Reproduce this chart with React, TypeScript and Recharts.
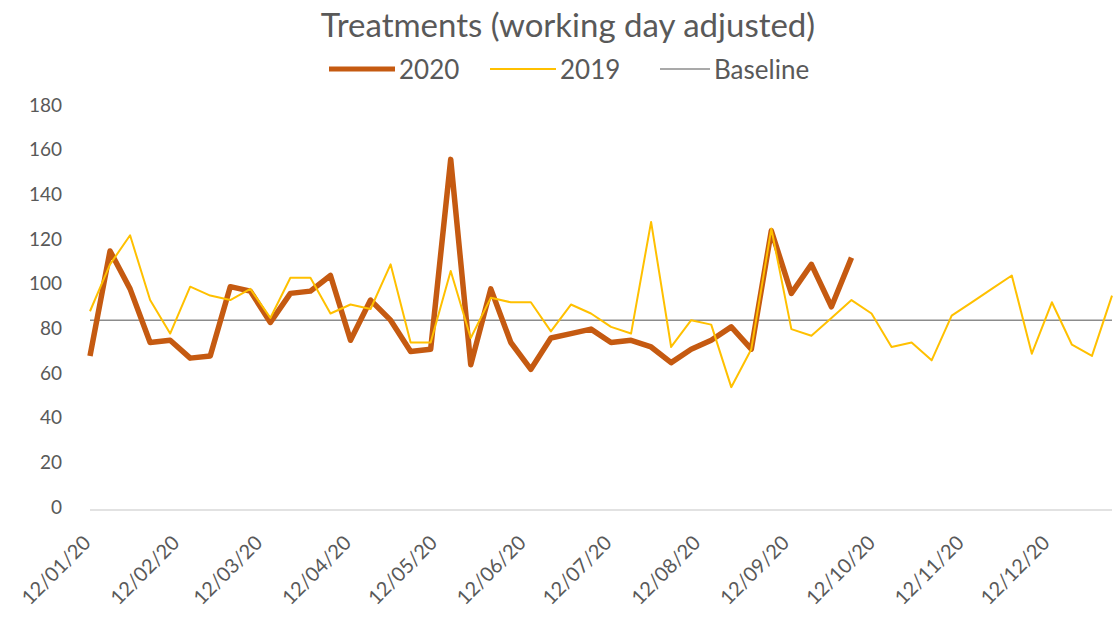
import { LineChart, Line, XAxis, YAxis, ReferenceLine } from "recharts";

// days since 12/01/20, one point per week
const weekDays = [
  0, 7, 14, 21, 28, 35, 42, 49, 56, 63, 70, 77, 84, 91, 98, 105, 112, 119, 126,
  133, 140, 147, 154, 161, 168, 175, 182, 189, 196, 203, 210, 217, 224, 231,
  238, 245, 252, 259, 266, 273, 280, 287, 294, 301, 308, 315, 322, 329, 336,
  343, 350, 357,
];

const treatments2020 = [
  69, 116, 99, 75, 76, 68, 69, 100, 98, 84, 97, 98, 105, 76, 94, 85, 71, 72,
  157, 65, 99, 75, 63, 77, 79, 81, 75, 76, 73, 66, 72, 76, 82, 72, 125, 97,
  110, 91, 113,
];

const treatments2019 = [
  89, 110, 123, 94, 79, 100, 96, 94, 99, 86, 104, 104, 88, 92, 90, 110, 75, 75,
  107, 77, 95, 93, 93, 80, 92, 88, 82, 79, 129, 73, 85, 83, 55, 72, 126, 81,
  78, 86, 94, 88, 73, 75, 67, 87, 93, 99, 105, 70, 93, 74, 69, 96,
];

const baselineValue = 85;

const monthTickDays = [0, 31, 60, 91, 121, 152, 182, 213, 244, 274, 305, 335];
const monthTickLabels = [
  "12/01/20", "12/02/20", "12/03/20", "12/04/20", "12/05/20", "12/06/20",
  "12/07/20", "12/08/20", "12/09/20", "12/10/20", "12/11/20", "12/12/20",
];
const yTicks = [0, 20, 40, 60, 80, 100, 120, 140, 160, 180];

const data = weekDays.map((day, i) => ({
  day,
  y2020: i < treatments2020.length ? treatments2020[i] : null,
  y2019: treatments2019[i],
}));

const FONT = "Lato, 'Open Sans', sans-serif";
const TEXT = "#595959";
const ORANGE = "#C55A11";
const YELLOW = "#FFC000";
const GREY = "#8C8C8C";

function DateTick({ x, y, payload }: any) {
  const label = monthTickLabels[monthTickDays.indexOf(payload.value)];
  const ax = x + 2;
  const ay = y + 34;
  return (
    <text
      x={ax}
      y={ay}
      transform={`rotate(-45 ${ax} ${ay})`}
      textAnchor="end"
      fill={TEXT}
      fontSize={20}
      fontFamily={FONT}
    >
      {label}
    </text>
  );
}

function ValueTick({ x, y, payload }: any) {
  return (
    <text
      x={x}
      y={y - 3}
      dy="0.355em"
      textAnchor="end"
      fill={TEXT}
      fontSize={19}
      fontFamily={FONT}
    >
      {payload.value}
    </text>
  );
}

function LegendItem({ color, width, label, left, lineW }: any) {
  return (
    <div
      style={{
        position: "absolute",
        left,
        top: 54,
        display: "flex",
        alignItems: "center",
        height: 30,
      }}
    >
      <svg width={lineW} height={10}>
        <line x1={0} y1={5} x2={lineW} y2={5} stroke={color} strokeWidth={width} />
      </svg>
      <span style={{ marginLeft: 4, fontSize: 26, color: TEXT }}>{label}</span>
    </div>
  );
}

export default function App() {
  return (
    <div
      style={{
        position: "absolute",
        left: 0,
        top: 0,
        width: 1120,
        height: 618,
        background: "#fff",
        fontFamily: FONT,
      }}
    >
      <div
        style={{
          position: "absolute",
          top: 4,
          left: 0,
          width: 1136,
          textAlign: "center",
          fontSize: 33,
          color: TEXT,
        }}
      >
        Treatments (working day adjusted)
      </div>
      <LegendItem color={ORANGE} width={5} label="2020" left={329} lineW={66} />
      <LegendItem color={YELLOW} width={2} label="2019" left={490} lineW={66} />
      <LegendItem color={GREY} width={1.5} label="Baseline" left={660} lineW={50} />

      <LineChart
        width={1120}
        height={618}
        data={data}
        margin={{ top: 108, right: 8, left: 0, bottom: 0 }}
      >
        <XAxis
          dataKey="day"
          type="number"
          domain={[0, 357]}
          ticks={monthTickDays}
          tick={<DateTick />}
          interval={0}
          tickLine={false}
          tickSize={0}
          tickMargin={0}
          height={108}
          axisLine={{ stroke: "#D9D9D9", strokeWidth: 1.5 }}
        />
        <YAxis
          type="number"
          domain={[0, 180]}
          ticks={yTicks}
          interval={0}
          width={90}
          axisLine={false}
          tickLine={false}
          tickSize={0}
          tickMargin={28}
          tick={<ValueTick />}
        />
        <ReferenceLine y={baselineValue} stroke={GREY} strokeWidth={1.5} />
        <Line
          dataKey="y2020"
          stroke={ORANGE}
          strokeWidth={5.5}
          strokeLinejoin="round"
          dot={false}
          activeDot={false}
          connectNulls={false}
          isAnimationActive={false}
        />
        <Line
          dataKey="y2019"
          stroke={YELLOW}
          strokeWidth={2}
          strokeLinejoin="round"
          dot={false}
          activeDot={false}
          isAnimationActive={false}
        />
      </LineChart>
    </div>
  );
}
